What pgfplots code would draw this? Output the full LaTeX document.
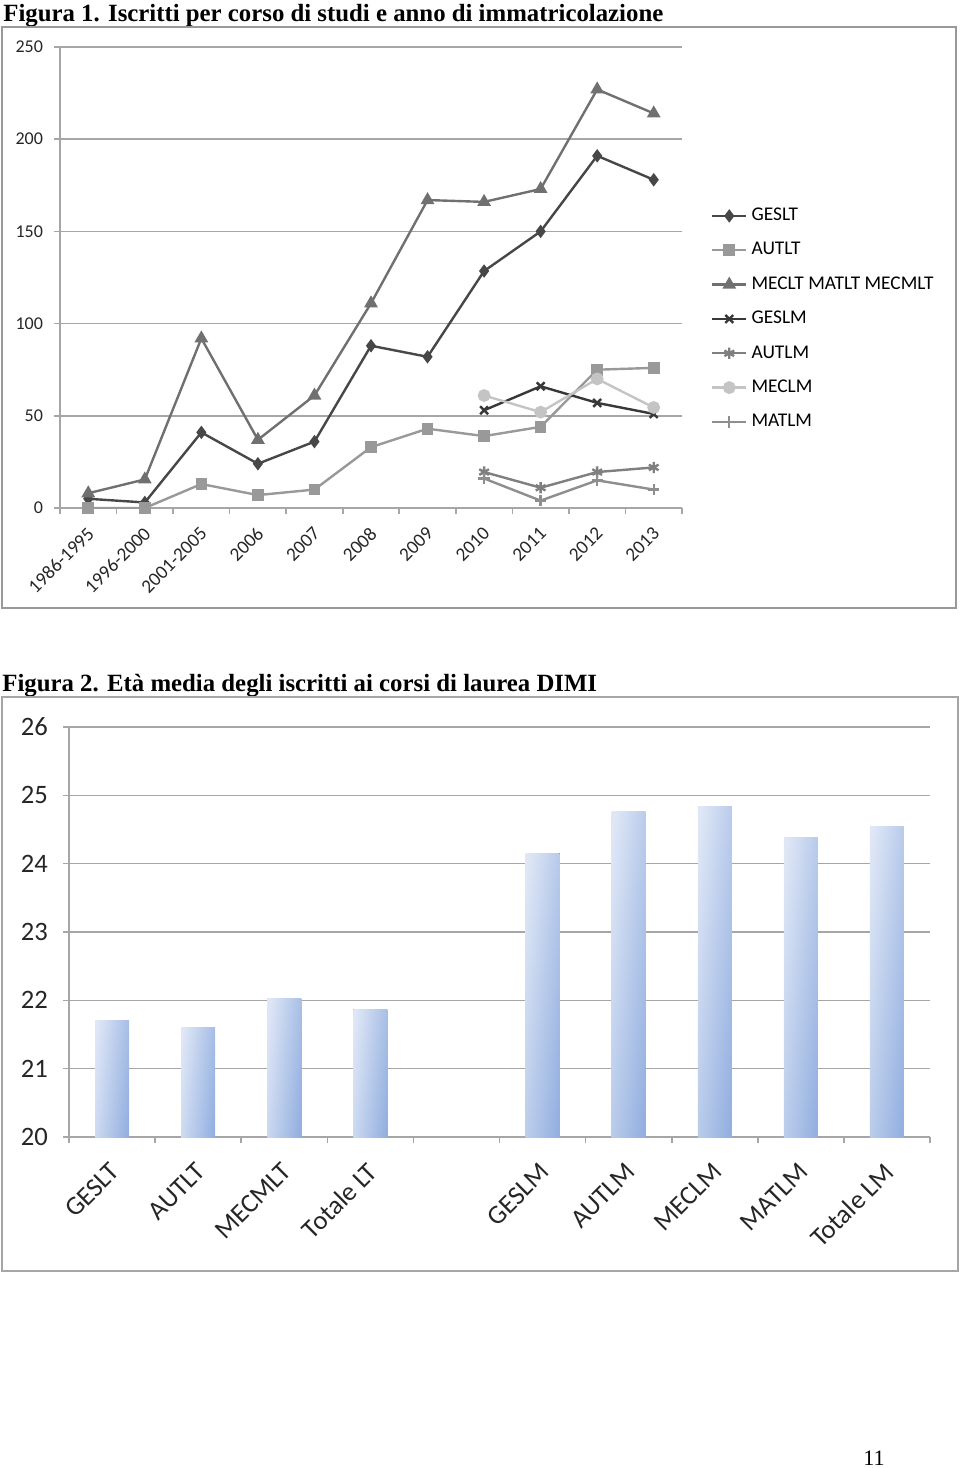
\documentclass[border=0pt]{standalone}
\usepackage{pgfplots}
\pgfplotsset{compat=1.18}
\usepackage{fontspec}
\setmainfont{Liberation Serif}
\newfontfamily\calib{Carlito}
\definecolor{cGESLT}{HTML}{474747}
\definecolor{cAUTLT}{HTML}{999999}
\definecolor{cMECLT}{HTML}{707070}
\definecolor{cGESLM}{HTML}{383838}
\definecolor{cAUTLM}{HTML}{7F7F7F}
\definecolor{cMECLM}{HTML}{C4C4C4}
\definecolor{cMATLM}{HTML}{8E8E8E}
\definecolor{gridc}{HTML}{A6A6A6}
\definecolor{barL}{HTML}{DFE7F6}
\definecolor{barR}{HTML}{94B0E0}
\begin{document}
\begin{tikzpicture}
\path[use as bounding box] (0pt,0pt) rectangle (480pt,-734pt);
% titles
\node[anchor=base west, inner sep=0, font=\fontsize{12.4}{14}\selectfont\bfseries] at (1.5pt,-10.5pt) {Figura 1. Iscritti per corso di studi e anno di immatricolazione};
\node[anchor=base west, inner sep=0, font=\fontsize{12.4}{14}\selectfont\bfseries] at (1pt,-345.5pt) {Figura 2. Età media degli iscritti ai corsi di laurea DIMI};
\node[anchor=base west, inner sep=0, font=\fontsize{11}{13}\selectfont] at (431.5pt,-732.5pt) {11};
% frames
\draw[gray!80, line width=1pt] (1pt,-13.5pt) rectangle (478pt,-304pt);
\draw[gray!70, line width=1.2pt] (1pt,-348.5pt) rectangle (479pt,-635.5pt);

\begin{axis}[
  at={(30pt,-254pt)}, anchor=south west, scale only axis,
  width=311pt, height=230.5pt,
  xmin=-0.5, xmax=10.5, ymin=0, ymax=250,
  axis x line*=bottom, axis y line*=left,
  axis line style={gridc, line width=0.8pt},
  ytick={0,50,...,250},
  ymajorgrids, grid style={gridc, line width=0.8pt},
  tick style={gridc, line width=0.8pt},
  tick align=outside, major tick length=3pt,
  xtick={-0.5,0.5,...,10.5}, xticklabels={},
  extra x ticks={0,1,...,10},
  extra x tick labels={1986-1995,1996-2000,2001-2005,2006,2007,2008,2009,2010,2011,2012,2013},
  extra x tick style={major tick length=0pt, grid=none,
     tick label style={xshift=2pt, yshift=-10.5pt, rotate=45, anchor=east, inner sep=1pt, font=\calib\fontsize{9.6}{10}\selectfont}},
  ticklabel style={font=\calib\fontsize{9}{10}\selectfont, text=black!85},
  /pgf/number format/assume math mode=true,
  yticklabel style={xshift=-2pt},
  legend style={at={(1.046,0.66)}, anchor=north west, draw=none, fill=none,
     font=\calib\fontsize{9.7}{10}\selectfont, row sep=5.4pt, inner sep=0pt},
  legend cell align=left,
]
\addplot[cGESLT, line width=1.2pt, mark=diamond*, mark size=2.4pt, mark options={fill=cGESLT, solid}] coordinates {
(0,5) (1,3) (2,41) (3,24) (4,36) (5,88) (6,82) (7,128.5) (8,150) (9,191) (10,178)};
\addlegendentry{GESLT}
\addplot[cAUTLT, line width=1.2pt, mark=square*, mark size=2.3pt, mark options={fill=cAUTLT}] coordinates {
(0,0) (1,0) (2,13) (3,7) (4,10) (5,33) (6,43) (7,39) (8,44) (9,75) (10,76)};
\addlegendentry{AUTLT}
\addplot[cMECLT, line width=1.2pt, mark=triangle*, mark size=2.8pt, mark options={fill=cMECLT}] coordinates {
(0,8) (1,15.5) (2,92) (3,37) (4,61) (5,111) (6,167) (7,166) (8,173) (9,227) (10,214)};
\addlegendentry{MECLT MATLT MECMLT}
\addplot[cGESLM, line width=1.2pt, mark=x, mark size=2.8pt] coordinates {
(7,53) (8,66) (9,57) (10,51)};
\addlegendentry{GESLM}
\addplot[cAUTLM, line width=1.2pt, mark=asterisk, mark size=2.8pt] coordinates {
(7,19.5) (8,11) (9,19.5) (10,22)};
\addlegendentry{AUTLM}
\addplot[cMECLM, line width=1.2pt, mark=*, mark size=2.6pt, mark options={fill=cMECLM}] coordinates {
(7,61) (8,52) (9,70) (10,54.5)};
\addlegendentry{MECLM}
\addplot[cMATLM, line width=1.2pt, mark=+, mark size=2.8pt] coordinates {
(7,16) (8,4) (9,15) (10,10)};
\addlegendentry{MATLM}
\end{axis}

\begin{axis}[
  at={(34.5pt,-568.5pt)}, anchor=south west, scale only axis,
  width=430.5pt, height=205pt,
  xmin=-0.5, xmax=9.5, ymin=20, ymax=26,
  axis x line*=bottom, axis y line*=left,
  axis line style={gridc, line width=0.8pt},
  ytick={20,21,...,26},
  ymajorgrids, grid style={gridc, line width=0.8pt},
  tick style={gridc, line width=0.8pt},
  tick align=outside, major tick length=3pt,
  xtick={-0.5,0.5,...,9.5}, xticklabels={},
  extra x ticks={0,1,2,3,5,6,7,8,9},
  extra x tick labels={GESLT,AUTLT,MECMLT,Totale LT,GESLM,AUTLM,MECLM,MATLM,Totale LM},
  extra x tick style={major tick length=0pt, grid=none,
     tick label style={xshift=2pt, yshift=-14.5pt, rotate=45, anchor=east, inner sep=1pt}},
  ticklabel style={font=\calib\fontsize{13.3}{15}\selectfont, text=black!85},
  /pgf/number format/assume math mode=true,
  yticklabel style={xshift=-4pt},
  ybar, bar width=17pt, bar shift=0pt,
  every axis plot/.append style={draw=none, left color=barL, right color=barR, shading angle=84},
]
\addplot coordinates {(0,21.7)};
\addplot coordinates {(1,21.6)};
\addplot coordinates {(2,22.03)};
\addplot coordinates {(3,21.87)};
\addplot coordinates {(5,24.15)};
\addplot coordinates {(6,24.76)};
\addplot coordinates {(7,24.84)};
\addplot coordinates {(8,24.38)};
\addplot coordinates {(9,24.54)};
\end{axis}
\end{tikzpicture}
\end{document}
